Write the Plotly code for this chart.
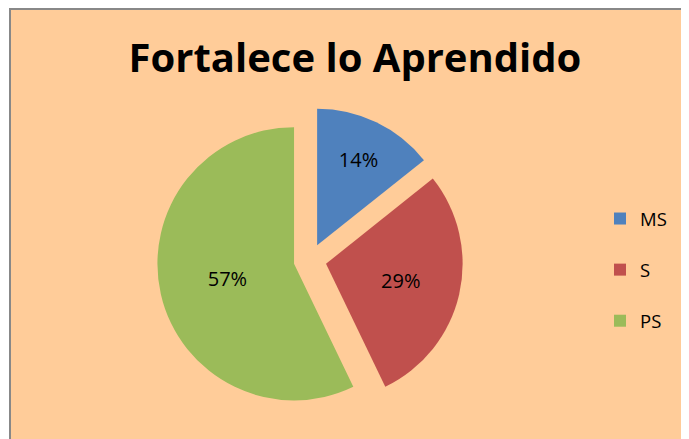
import plotly.graph_objects as go

categories = ["MS", "S", "PS"]
values = [1, 2, 4]
colors = ["#4F81BD", "#C0504D", "#9BBB59"]
pulls = [0.12, 0.12, 0.12]

W, H = 681, 431
bg = "#FFCC99"

fig = go.Figure(go.Pie(
    labels=[c + "<br> " for c in categories],
    values=values,
    sort=False,
    direction="clockwise",
    rotation=0,
    pull=pulls,
    marker=dict(colors=colors, line=dict(width=0)),
    texttemplate="%{percent:.0%}",
    textposition="inside",
    insidetextorientation="horizontal",
    textfont=dict(family="Open Sans", size=20, color="black"),
    domain=dict(x=[0.212, 0.675], y=[0.06, 0.77]),
    hovertemplate="%{percent}<extra></extra>",
))

fig.update_layout(
    width=W, height=H,
    margin=dict(l=0, r=0, t=0, b=0),
    paper_bgcolor="white",
    plot_bgcolor=bg,
    title=dict(text="<b>Fortalece lo Aprendido</b>", x=347 / W, xanchor="center",
               y=1 - 50 / H, yanchor="middle",
               font=dict(family="Open Sans", size=40, color="black")),
    legend=dict(x=592 / W, y=1 - 192 / H, xanchor="left", yanchor="top",
                font=dict(family="Open Sans", size=18.5, color="black"),
                valign="top",
                bgcolor="rgba(0,0,0,0)", itemwidth=30),
    shapes=[dict(type="rect", xref="paper", yref="paper",
                 x0=2 / W, x1=1.05, y0=-0.05, y1=1 - 1 / H,
                 fillcolor=bg, line=dict(color="#888888", width=2), layer="below")],
)

fig.write_html("out.html")
